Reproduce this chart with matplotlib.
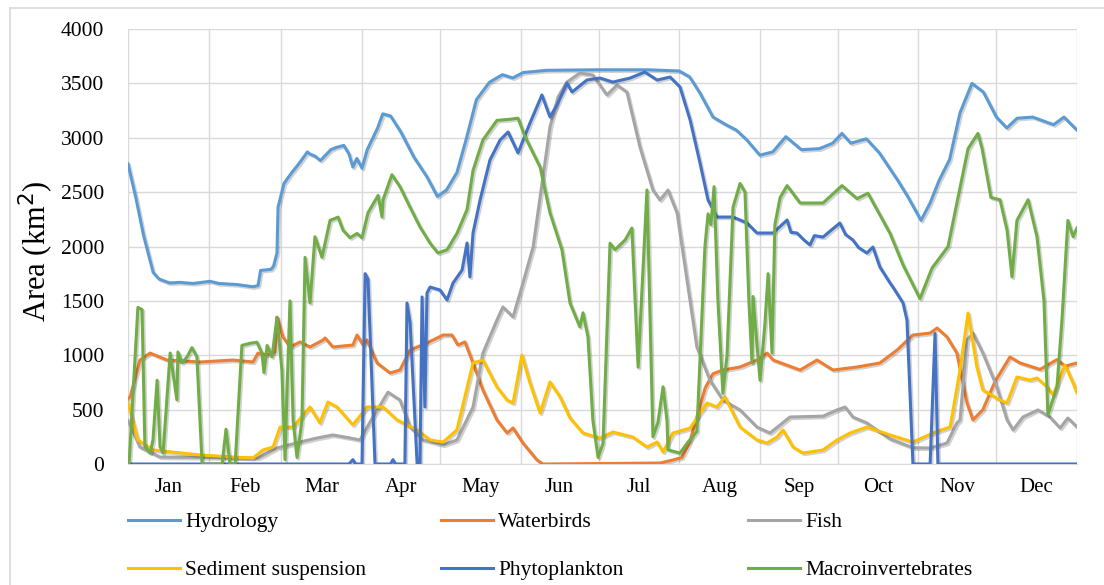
import matplotlib
matplotlib.use("Agg")
import matplotlib.pyplot as plt
import matplotlib.patheffects as pe
from matplotlib.lines import Line2D

# day-of-year / area (km2) knots for each indicator
hydro_day = [0, 3, 6, 9.7, 12, 16, 20, 25, 31.5, 35, 42, 48, 50, 51, 55, 56, 57.3, 57.7, 60, 63, 66,
             69, 70, 72, 74, 78, 80, 83, 85, 86.5, 88, 90, 92, 96, 98, 101, 105, 110, 115, 119, 122.5,
             126.5, 130, 134, 139, 144, 148, 152, 161, 180, 200, 212, 216, 220, 225, 230, 234, 238,
             243, 248, 253, 259, 266, 271, 274.6, 278, 284, 289, 296, 300, 305, 308.5, 312, 316, 320,
             324.6, 329, 334, 338, 342, 348, 356, 360, 365]
hydro_val = [2760, 2450, 2100, 1760, 1700, 1665, 1670, 1660, 1680, 1660, 1650, 1630, 1640, 1780, 1790,
             1820, 1940, 2360, 2580, 2680, 2770, 2870, 2850, 2830, 2790, 2890, 2910, 2930, 2850, 2730,
             2810, 2720, 2890, 3090, 3220, 3200, 3050, 2820, 2640, 2460, 2520, 2680, 2980, 3350, 3510,
             3580, 3550, 3600, 3620, 3625, 3625, 3614, 3560, 3410, 3190, 3120, 3070, 2980, 2840, 2870,
             3010, 2890, 2900, 2950, 3040, 2950, 2990, 2860, 2610, 2455, 2240, 2400, 2610, 2800, 3230,
             3500, 3420, 3190, 3090, 3180, 3190, 3120, 3190, 3070]

birds_day = [0, 0.8, 4.6, 8.5, 15, 27.7, 40.4, 48.1, 50, 53.5, 56.5, 57.3, 59.6, 62.3, 66.2, 70, 75,
             75.8, 78.8, 86.5, 88.1, 90.4, 91.9, 95.8, 100.8, 104.6, 108.5, 115, 121.2, 124.6, 126.9,
             129.6, 132.7, 136.5, 141.9, 145.8, 148.1, 151.9, 157.3, 159.6, 204.6, 209.6, 213, 216,
             219, 222, 225, 228.8, 235.4, 241.9, 245.8, 248.1, 258.5, 265, 271.2, 280.4, 289.2, 295.8,
             301.9, 308.5, 311.2, 315, 318.8, 322.7, 325, 328.8, 333.5, 339.2, 343.1, 350.8, 357.3,
             360.4, 365]
birds_val = [600, 616, 956, 1020, 956, 938, 956, 938, 1020, 1002, 1030, 1350, 1168, 1076, 1122, 1076,
             1140, 1159, 1076, 1094, 1186, 1094, 1140, 929, 837, 864, 1048, 1113, 1186, 1186, 1094,
             1122, 929, 680, 405, 285, 331, 193, 37, 0, 9, 37, 60, 200, 450, 700, 830, 864, 892, 956,
             1020, 956, 864, 956, 864, 892, 929, 1048, 1186, 1204, 1250, 1168, 1020, 560, 405, 500,
             760, 984, 929, 870, 960, 900, 929]

fish_day = [0, 4.6, 12.3, 30, 50, 57.3, 66.2, 72.7, 78.8, 85.4, 89.2, 94.2, 100, 104.6, 108.5, 113.5,
            121.2, 126.5, 132.7, 136.5, 141.9, 144.2, 148.1, 151.9, 155.8, 158.5, 162.3, 165.4, 168.8,
            173.8, 178.8, 184.2, 188.1, 191.9, 196.9, 201.9, 204.6, 207.7, 211.2, 215, 218.8, 223.8,
            228.8, 235.4, 241.9, 246.9, 250.8, 254.6, 267.3, 272.7, 275.8, 278.8, 284.2, 293.1, 301.9,
            308.5, 315, 318.8, 320, 322.7, 325, 328.8, 334.2, 338.1, 340.4, 344.2, 350, 354.6, 358.5,
            361.5, 365]
fish_val = [400, 156, 64, 60, 55, 147, 202, 239, 267, 239, 221, 432, 660, 588, 340, 221, 175, 221,
            524, 1020, 1324, 1444, 1352, 1664, 1995, 2455, 3099, 3375, 3512, 3595, 3577, 3393, 3485,
            3420, 2915, 2519, 2427, 2519, 2308, 1692, 1076, 772, 588, 497, 340, 285, 359, 432, 440,
            497, 524, 432, 377, 230, 150, 147, 193, 377, 405, 1140, 1204, 1020, 708, 405, 313, 432,
            497, 432, 331, 423, 340]

sed_day = [0, 3.8, 9.6, 17, 27.7, 40.4, 48.1, 51.9, 55.8, 58.5, 63.5, 70, 73.8, 76.9, 80.4, 86.5,
           91.9, 98.1, 103.5, 111.2, 116.2, 121.2, 126.5, 132.7, 136.5, 141.9, 145.8, 148.1, 151.5,
           154.6, 158.5, 162.3, 166.2, 170, 175, 181.5, 186.5, 194.2, 199.6, 203.5, 205.8, 209.6,
           216.2, 222.7, 226.5, 229.6, 235.4, 241.9, 245.8, 249.6, 251.9, 255.8, 259.6, 267.3, 272.7,
           277.7, 284.2, 293.1, 301.9, 309.6, 316.2, 320, 323.1, 326.5, 328.8, 335.4, 338.1, 341.9,
           346.9, 349.6, 353.5, 355.8, 360.4, 363.5, 365]
sed_val = [561, 221, 129, 110, 83, 64, 55, 129, 156, 340, 340, 524, 377, 570, 524, 359, 524, 524, 405,
           313, 221, 202, 313, 929, 956, 708, 588, 560, 1002, 745, 469, 754, 616, 423, 285, 239, 294,
           248, 156, 202, 110, 285, 330, 561, 524, 616, 340, 221, 193, 248, 313, 156, 101, 129, 221,
           285, 340, 267, 202, 285, 340, 864, 1388, 892, 680, 588, 561, 800, 772, 791, 708, 634, 910,
           745, 653]

phyto_day = [0, 85, 86.5, 87.5, 90, 91.2, 92.3, 95, 101, 101.9, 102.8, 106.5, 107.3, 108.5, 111.2,
             112.3, 113.1, 114.2, 115, 116.2, 120, 122.7, 125, 128.5, 130.4, 131.5, 132.7, 135.4,
             139.2, 143.1, 146.2, 150, 154.6, 159.2, 162.3, 165, 168.8, 170.8, 176.5, 181.5, 186.5,
             193.1, 198.8, 203.5, 208.5, 212.3, 216.2, 220, 223.1, 226.5, 232.7, 238.1, 241.9, 248.1,
             253.5, 255, 257.3, 260, 262.3, 264, 267.3, 273.8, 276, 278.8, 281, 284.2, 286.5, 289.2,
             293.1, 294.2, 298.1, 299.6, 301.9, 308.5, 310.4, 311.5, 365]
phyto_val = [0, 0, 40, 0, 0, 1750, 1700, 0, 0, 40, 0, 0, 1480, 1300, 0, 0, 1536, 524, 1572, 1627,
             1600, 1508, 1664, 1784, 2032, 1720, 2124, 2427, 2795, 2979, 3053, 2860, 3135, 3393, 3191,
             3301, 3503, 3420, 3531, 3549, 3512, 3549, 3604, 3531, 3558, 3467, 3163, 2768, 2427, 2271,
             2271, 2216, 2124, 2124, 2244, 2130, 2124, 2060, 2014, 2100, 2087, 2216, 2110, 2060, 1990,
             1940, 1995, 1811, 1664, 1627, 1480, 1324, 0, 0, 1200, 0, 0]

macro_day = [0.4, 3.8, 5.4, 6.5, 8.5, 9.6, 11.2, 12.3, 13.5, 16.2, 18.8, 19.2, 20.8, 22.7, 24.6, 26.5,
             28.5, 36.2, 37.7, 39.2, 41.2, 43.8, 46.9, 49.6, 51.5, 52.3, 53.5, 55.4, 57.3, 59.2, 60.4,
             61.2, 62.3, 63.5, 65, 66.9, 68.1, 70, 71.9, 74.6, 77.7, 80.8, 82.7, 85.4, 88.1, 90, 92.3,
             96.2, 97.7, 98.1, 101.5, 104.6, 108.5, 112.3, 116.2, 119.2, 122.7, 126.5, 130.4, 132.7,
             136.5, 141.9, 146.9, 150, 152.7, 158.5, 162.3, 166.9, 170, 173.8, 175, 176.9, 178.8,
             180.8, 182.7, 185.4, 187.3, 191.2, 193.8, 196.2, 199.6, 201.9, 203.8, 205.8, 207.3,
             207.7, 212.3, 215, 218.8, 221.9, 223.1, 224.2, 225.4, 226.9, 228.8, 230.4, 232.7, 235.4,
             237.3, 238.8, 240, 240.4, 241.9, 243.1, 245, 246.2, 247.7, 248.8, 250.8, 253.5, 258.5,
             267.3, 274.6, 280.4, 284.6, 293.1, 298.1, 304.6, 309.2, 312.3, 315.4, 318.8, 323.1,
             326.9, 328.5, 331.9, 335.4, 338.1, 340, 341.9, 346.2, 349.6, 352.3, 353.8, 357.3, 359.2,
             361.5, 363.5, 365]
macro_val = [0, 1440, 1420, 160, 100, 220, 770, 160, 100, 1020, 590, 1030, 930, 985, 1070, 985, 0, 0,
             320, 0, 0, 1090, 1110, 1120, 1020, 840, 1090, 985, 1350, 860, 40, 700, 1500, 400, 60, 400,
             1900, 1480, 2090, 1900, 2240, 2270, 2150, 2080, 2120, 2080, 2310, 2470, 2270, 2430, 2660,
             2550, 2360, 2180, 2030, 1940, 1970, 2120, 2340, 2700, 2980, 3160, 3170, 3180, 3010, 2730,
             2310, 1970, 1480, 1260, 1390, 1170, 400, 60, 190, 2030, 1970, 2060, 2170, 890, 2520, 250,
             380, 710, 400, 130, 100, 190, 300, 2000, 2300, 2200, 2550, 1500, 650, 1000, 2360, 2580,
             2500, 1500, 930, 1540, 1100, 770, 1300, 1750, 1020, 2200, 2450, 2560, 2400, 2400, 2560,
             2440, 2490, 2120, 1830, 1520, 1800, 1900, 2000, 2400, 2900, 3040, 2900, 2450, 2430, 2150,
             1720, 2240, 2430, 2090, 1500, 450, 710, 1320, 2240, 2090, 2170]

month_starts = [0, 31, 59, 90, 120, 151, 181, 212, 243, 273, 304, 334, 365]
month_names = ["Jan", "Feb", "Mar", "Apr", "May", "Jun", "Jul", "Aug", "Sep", "Oct", "Nov", "Dec"]

series = [
    ("Hydrology", hydro_day, hydro_val, "#5B9BD5"),
    ("Waterbirds", birds_day, birds_val, "#ED7D31"),
    ("Fish", fish_day, fish_val, "#A5A5A5"),
    ("Sediment suspension", sed_day, sed_val, "#FFC000"),
    ("Phytoplankton", phyto_day, phyto_val, "#4472C4"),
    ("Macroinvertebrates", macro_day, macro_val, "#70AD47"),
]

plt.rcParams["font.family"] = ["Liberation Serif", "DejaVu Serif"]

fig = plt.figure(figsize=(11.04, 5.85), dpi=100)
ax = fig.add_axes([128 / 1104, 1 - 464 / 585, 949 / 1104, 435 / 585])

shadow = [pe.SimpleLineShadow(offset=(1.2, -1.2), shadow_color="k", alpha=0.18), pe.Normal()]
handles = []
for name, d, v, c in series:
    ax.plot(d, v, color=c, lw=2.2, label=name, solid_joinstyle="round",
            path_effects=shadow, zorder=3)
    handles.append(Line2D([], [], color=c, lw=2.2))

ax.set_xlim(0, 365)
ax.set_ylim(0, 4000)
ax.set_yticks(range(0, 4001, 500))
ax.set_xticks(month_starts)
ax.set_xticklabels([])
mids = [(a + b) / 2 for a, b in zip(month_starts[:-1], month_starts[1:])]
ax.set_xticks(mids, minor=True)
ax.set_xticklabels(month_names, minor=True)
ax.tick_params(axis="both", which="both", length=0)
ax.tick_params(axis="y", pad=17, labelsize=15.5)
ax.tick_params(axis="x", which="minor", pad=10, labelsize=15)
ax.grid(True, which="major", color="#D9D9D9", lw=1)
ax.set_axisbelow(True)
for s in ["top", "right", "left"]:
    ax.spines[s].set_visible(False)
ax.spines["bottom"].set_color("#D9D9D9")

ax.set_ylabel("Area (km$^2$)", fontsize=22)
ax.yaxis.set_label_coords(-0.076, 0.49)

# legend: three columns of two entries
col_x = [128 / 1104, 441 / 1104, 748 / 1104]
for i, x0 in enumerate(col_x):
    idx = [i, i + 3]
    fig.legend([handles[j] for j in idx], [series[j][0] for j in idx],
               loc="upper left", bbox_to_anchor=(x0, 1 - 512 / 585), frameon=False,
               fontsize=15.5, handlelength=2.4, handletextpad=0.25, borderpad=0,
               borderaxespad=0, labelspacing=1.3)

# outer frame of the chart area
fig.add_artist(Line2D([10 / 1104, 10 / 1104], [0, 1 - 8 / 585], color="#D9D9D9", lw=1.2,
                      transform=fig.transFigure))
fig.add_artist(Line2D([10 / 1104, 1], [1 - 8 / 585, 1 - 8 / 585], color="#D9D9D9", lw=1.2,
                      transform=fig.transFigure))

fig.savefig("out.png", dpi=100)
